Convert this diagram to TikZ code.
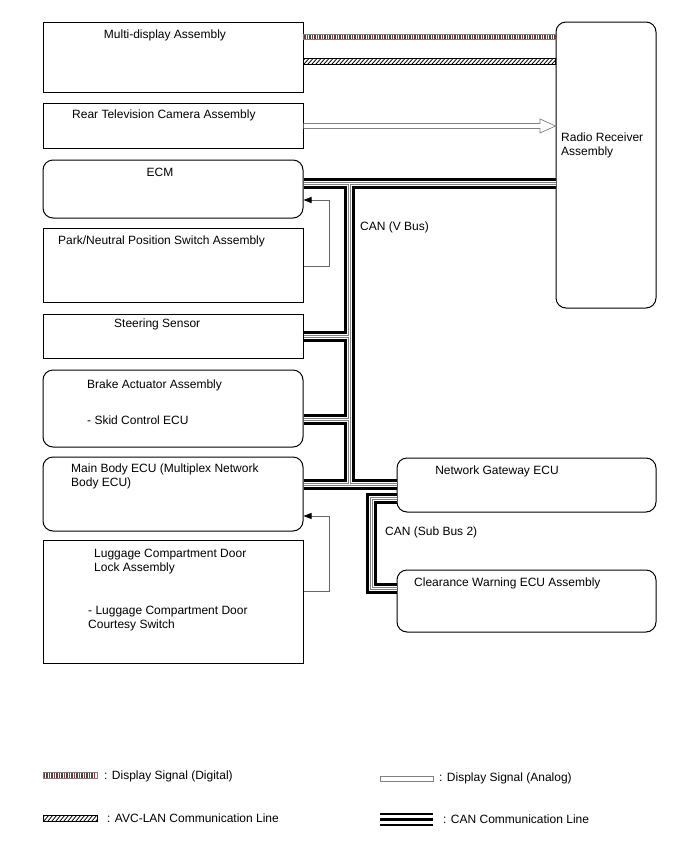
\documentclass[tikz,border=0pt]{standalone}
\usepackage{fontspec}
\setmainfont{Liberation Sans}
\usepackage{xcolor}
\usepackage{tikz}
\usetikzlibrary{positioning, arrows.meta}
\definecolor{digit}{RGB}{105,60,60}

\begin{document}
\begin{tikzpicture}[x=1pt, y=-1pt, every node/.style={inner sep=0pt, font=\fontsize{12}{14}\selectfont},
  unit/.style={draw, line width=1pt, minimum width=260pt},
  ecu/.style={unit, rounded corners=10pt},
  lbl/.style={anchor=north west, align=left},
  fb/.style={draw=gray!80!black, line width=0.8pt, -{Triangle[length=8pt,width=6pt,color=black]}},
  canline/.style={line width=11pt, postaction={draw, white, line width=5pt},
    postaction={draw, gray, line width=3pt}, postaction={draw, white, line width=1pt}}]
  \useasboundingbox (0,0) rectangle (688,852);

  % units on the left
  \node[unit, minimum height=70pt] (multi) at (173,57) {};
  \node[unit, minimum height=45pt] (rearcam) at (173,125.5) {};
  \node[ecu, minimum height=58pt] (ecm) at (173,189) {};
  \node[unit, minimum height=74pt] (pnp) at (173,265) {};
  \node[unit, minimum height=44pt] (steer) at (173,336) {};
  \node[ecu, minimum height=77pt] (brake) at (173,408.5) {};
  \node[ecu, minimum height=74pt] (mainbody) at (173,494) {};
  \node[unit, minimum height=123pt] (luggage) at (173,601.5) {};
  % units on the right
  \node[ecu, minimum width=100pt, minimum height=286pt] (radio) at (606,165) {};
  \node[ecu, minimum width=259pt, minimum height=54pt] (gateway) at (526.5,485) {};
  \node[ecu, minimum width=259pt, minimum height=62pt] (clearance) at (526.5,601) {};

  \node[anchor=north] (multitxt) at (165,30) {Multi-display Assembly};
  \node[lbl] (rearcamtxt) at (72,110) {Rear Television Camera Assembly};
  \node[anchor=north] (ecmtxt) at (160,168) {ECM};
  \node[lbl] (pnptxt) at (58,236) {Park/Neutral Position Switch Assembly};
  \node[lbl] (steertxt) at (114,319) {Steering Sensor};
  \node[lbl] (braketxt) at (87,380) {Brake Actuator Assembly};
  \node[lbl] (skidtxt) at (87,416) {- Skid Control ECU};
  \node[lbl] (mainbodytxt) at (71,464) {Main Body ECU (Multiplex Network\\Body ECU)};
  \node[lbl] (luggagetxt) at (94,549) {Luggage Compartment Door\\Lock Assembly};
  \node[lbl] (courtesytxt) at (88,606) {- Luggage Compartment Door\\Courtesy Switch};
  \node[lbl] (radiotxt) at (561,133) {Radio Receiver\\Assembly};
  \node[anchor=north] (gatewaytxt) at (497,466) {Network Gateway ECU};
  \node[lbl] (clearancetxt) at (414,578) {Clearance Warning ECU Assembly};
  \node[lbl] (vbustxt) at (360,222) {CAN (V Bus)};
  \node[lbl] (subbustxt) at (385,527) {CAN (Sub Bus 2)};

  % display signal (digital)
  \draw[gray, line width=0.6pt] (multi.east |- 0,34.5) rectangle (radio.west |- 0,39.5);
  \foreach \i in {305,307.5,...,555}
    \draw[digit, line width=1.2pt] (\i,35) -- (\i,39);
  % AVC-LAN
  \begin{scope}
    \clip (multi.east |- 0,58.5) rectangle (radio.west |- 0,64);
    \foreach \i in {300,304,...,560}
      \draw[line width=0.8pt] (\i,64) -- (\i+5,58.5);
  \end{scope}
  \draw[line width=0.6pt] (multi.east |- 0,58.5) rectangle (radio.west |- 0,64);
  % display signal (analog)
  \draw[gray, line width=0.7pt, fill=white] (rearcam.east |- 0,123.5) -- (540,123.5) -- (540,119)
    -- (radio.west |- 0,126) -- (540,133) -- (540,128.5) -- (rearcam.east |- 0,128.5);

  % CAN (V Bus)
  \coordinate (vtop) at (349,183);
  \coordinate (vbot) at (349,484);
  \draw[canline] (ecm.east |- vtop) -- (radio.west |- vtop)
    (vtop) -- (vbot)
    (mainbody.east |- vbot) -- (gateway.west |- vbot)
    (steer.east) -- (steer.east -| vtop)
    (brake.east |- 0,419) -- (vtop |- 0,419);
  % CAN (Sub Bus 2)
  \draw[canline] (gateway.west |- 0,498) -- (371,498) -- (371,588) -- (clearance.west |- 0,588);

  % direct lines
  \draw[fb] (pnp.east |- 0,266) -- (329,266) -- (329,200) -- (ecm.east |- 0,200);
  \draw[fb] (luggage.east |- 0,591) -- (329,591) -- (329,516) -- (mainbody.east |- 0,516);

  % legend
  \draw[gray, line width=0.6pt] (43,772) rectangle (97,778);
  \foreach \i in {44.5,47,...,96}
    \draw[digit, line width=1.2pt] (\i,772.5) -- (\i,777.5);
  \node[lbl] (digitaltxt) at (104,771) {: Display Signal (Digital)};
  \begin{scope}
    \clip (43,815) rectangle (97,821);
    \foreach \i in {40,44,...,100}
      \draw[line width=0.8pt] (\i,821) -- (\i+5,815);
  \end{scope}
  \draw[line width=0.6pt] (43,815) rectangle (97,821);
  \node[lbl] (avctxt) at (107,814) {: AVC-LAN Communication Line};
  \draw[gray, line width=0.7pt] (380,776) rectangle (433,781);
  \node[lbl] (analogtxt) at (439,773) {: Display Signal (Analog)};
  \foreach \y in {814,819.5,825}
    \draw[line width=2.4pt] (380,\y) -- (433,\y);
  \node[lbl] (cantxt) at (443,815) {: CAN Communication Line};
\end{tikzpicture}
\end{document}
